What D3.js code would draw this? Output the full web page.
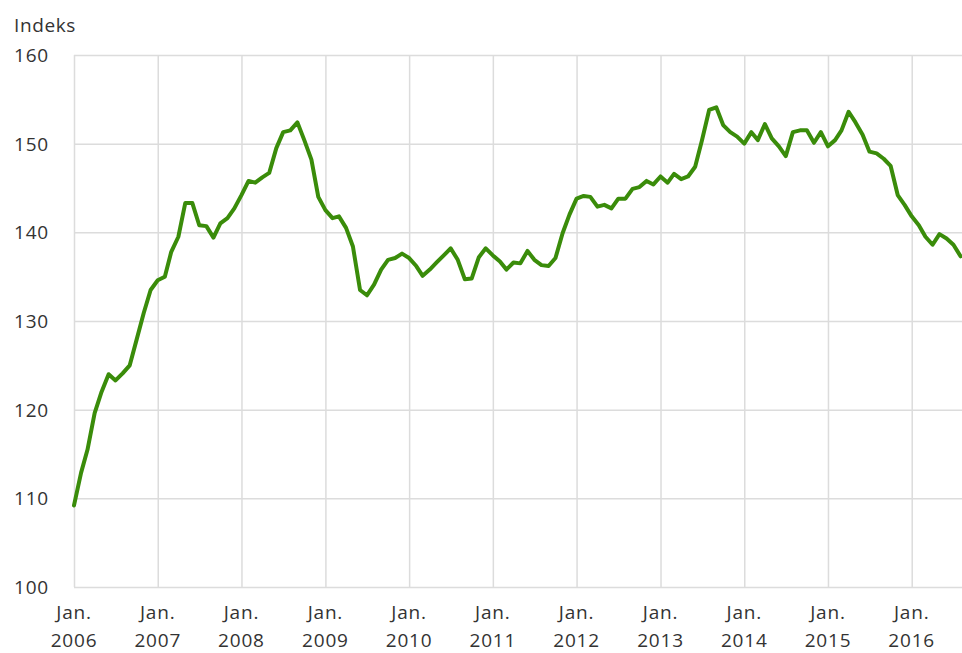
<!DOCTYPE html>
<html lang="no">
<head>
<meta charset="utf-8">
<title>Indeks</title>
<script src="https://cdn.jsdelivr.net/npm/d3@7"></script>
<style>
  html, body { margin: 0; padding: 0; background: #fff; }
  svg { display: block; }
  text { font-family: "Open Sans", sans-serif; fill: #333; }
</style>
</head>
<body>
<svg></svg>
<script>
// månedlig indeks, jan. 2006 - aug. 2016
var startYear = 2006;
var y2006 = [109.2,112.9,115.5,119.6,122.0,124.0,123.3,124.1,125.0,127.9,130.9,133.5];
var y2007 = [134.6,135.0,137.8,139.5,143.3,143.3,140.8,140.7,139.4,141.0,141.6,142.7];
var y2008 = [144.2,145.8,145.6,146.2,146.7,149.5,151.3,151.5,152.4,150.4,148.2,144.0];
var y2009 = [142.5,141.6,141.8,140.5,138.4,133.5,132.9,134.1,135.8,136.9,137.1,137.6];
var y2010 = [137.1,136.2,135.1,135.8,136.6,137.4,138.2,136.9,134.7,134.8,137.2,138.2];
var y2011 = [137.4,136.7,135.8,136.6,136.5,137.9,136.9,136.3,136.2,137.1,139.9,142.0];
var y2012 = [143.8,144.1,144.0,142.9,143.1,142.7,143.8,143.8,144.9,145.1,145.8,145.4];
var y2013 = [146.3,145.6,146.6,146.0,146.3,147.4,150.4,153.8,154.1,152.1,151.3,150.8];
var y2014 = [150.0,151.3,150.4,152.2,150.6,149.7,148.6,151.3,151.5,151.5,150.1,151.3];
var y2015 = [149.7,150.4,151.5,153.6,152.4,151.0,149.1,148.9,148.3,147.5,144.2,143.1];
var y2016 = [141.8,140.8,139.5,138.6,139.8,139.3,138.6,137.3];

var yTicks = [100, 110, 120, 130, 140, 150, 160];
var monthLabel = "Jan.";
var yTitle = "Indeks";

var width = 962, height = 653;
var svg = d3.select("svg").attr("width", width).attr("height", height);

// build date/value rows
var years = [y2006, y2007, y2008, y2009, y2010, y2011, y2012, y2013, y2014, y2015, y2016];
var data = [];
years.forEach(function(vals, yi){
  vals.forEach(function(v, m){
    data.push({ date: new Date(startYear + yi, m, 1), value: v });
  });
});

var x = d3.scaleTime()
    .domain([new Date(2006, 0, 1), new Date(2016, 0, 1)])
    .range([74, 911.7]);
var y = d3.scaleLinear().domain([100, 160]).range([587, 55]);
var right = 962;

// horizontal grid
var gy = svg.append("g")
    .attr("transform", "translate(74,0)")
    .call(d3.axisRight(y).tickValues(yTicks).tickSize(right - 74).tickFormat(""));
gy.select(".domain").remove();
gy.selectAll("line").attr("stroke", "#dcdcdc").attr("stroke-width", 1.5);

// vertical grid
var xTicks = d3.timeYear.range(new Date(2006, 0, 1), new Date(2016, 1, 1));
var gx = svg.append("g")
    .attr("transform", "translate(0,55)")
    .call(d3.axisBottom(x).tickValues(xTicks).tickSize(587 - 55).tickFormat(""));
gx.select(".domain").remove();
gx.selectAll("line").attr("stroke", "#dcdcdc").attr("stroke-width", 1.5);

// y labels
svg.append("g").selectAll("text")
  .data(yTicks)
  .enter().append("text")
  .attr("x", 14)
  .attr("y", function(d){ return y(d) + 7; })
  .style("font-size", "19px")
  .style("letter-spacing", "0.8px")
  .text(function(d){ return d; });

svg.append("text")
  .attr("x", 14).attr("y", 31.5)
  .style("font-size", "19px")
  .style("letter-spacing", "0.6px")
  .text(yTitle);

// x labels
var xl = svg.append("g").selectAll("text")
  .data(xTicks)
  .enter().append("text")
  .attr("text-anchor", "middle")
  .style("font-size", "19px")
  .style("letter-spacing", "0.8px");
xl.append("tspan")
  .attr("x", function(d){ return x(d); })
  .attr("y", 619)
  .text(monthLabel);
xl.append("tspan")
  .attr("x", function(d){ return x(d); })
  .attr("y", 647)
  .text(function(d){ return d.getFullYear(); });

// line
var line = d3.line()
    .x(function(d){ return x(d.date); })
    .y(function(d){ return y(d.value); });

svg.append("path")
  .datum(data)
  .attr("fill", "none")
  .attr("stroke", "#3a8c0a")
  .attr("stroke-width", 4)
  .attr("stroke-linejoin", "round")
  .attr("stroke-linecap", "round")
  .attr("d", line);
</script>
</body>
</html>
